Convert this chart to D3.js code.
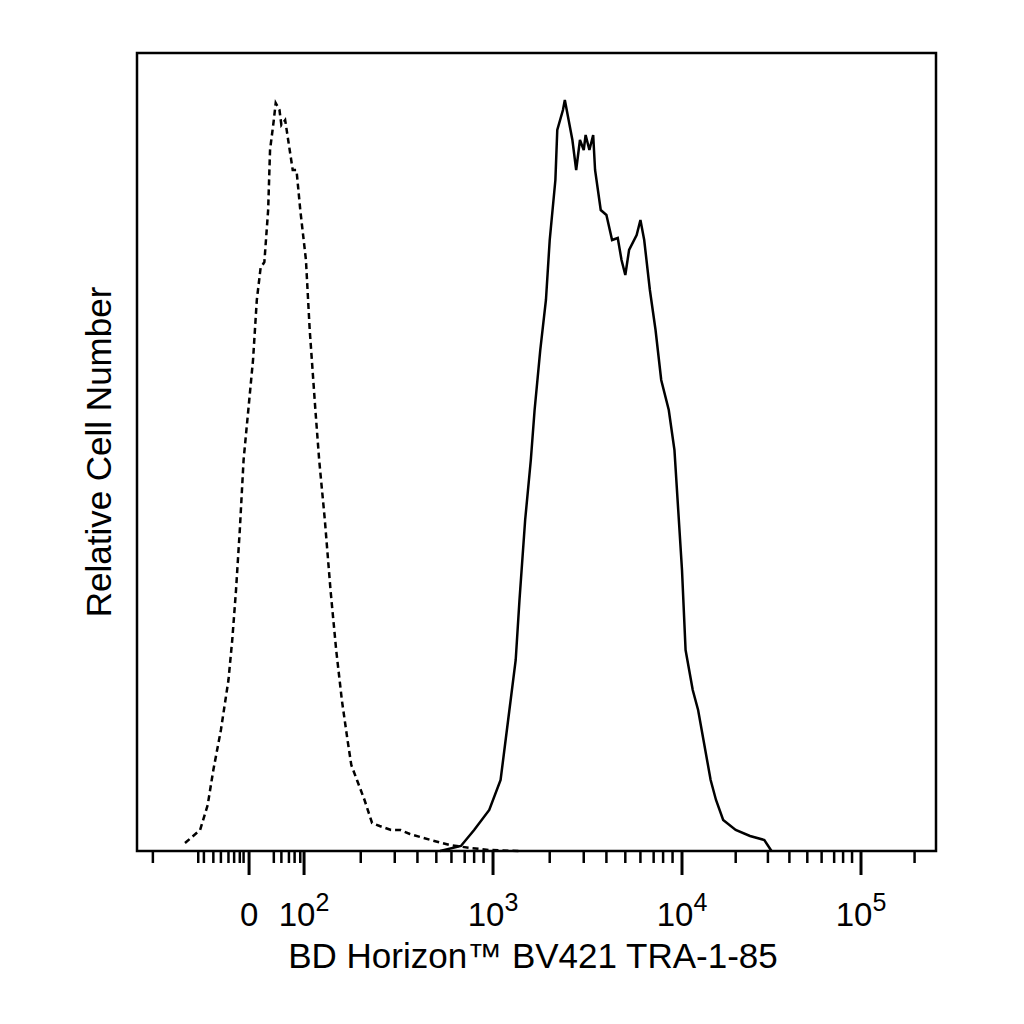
<!DOCTYPE html><html><head><meta charset="utf-8">
<script src="https://cdn.jsdelivr.net/npm/d3@7"></script>
<style>body{margin:0;background:#fff}</style></head><body><svg id="c" width="1024" height="1024"></svg>
<script>
// x values are in decade display units (2 = 10^2); "0" sits at 1.709
const isoX=[1.37,1.45,1.49,1.52,1.56,1.60,1.62,1.64,1.66,1.68,1.70,1.73,1.75,1.77,1.79,1.81,1.82,1.84,1.85,1.87,1.88,1.90,1.92,1.94,1.96,1.98,2.01,2.03,2.06,2.08,2.11,2.14,2.17,2.20,2.23,2.25,2.28,2.30,2.32,2.36,2.40,2.46,2.51,2.56,2.67,2.77,2.88,2.98,3.14];
const isoY=[8,21,46,81,121,171,211,261,321,391,431,491,551,583,589,641,701,731,748,741,726,731,706,681,681,641,591,521,441,391,331,261,201,151,111,86,71,61,51,28,25,21,21,17,11,6,3,1,0];
const stX=[2.72,2.83,2.90,2.98,3.04,3.08,3.12,3.14,3.17,3.20,3.22,3.25,3.28,3.30,3.33,3.34,3.37,3.38,3.40,3.42,3.44,3.46,3.48,3.49,3.51,3.53,3.54,3.57,3.60,3.63,3.66,3.68,3.70,3.72,3.76,3.78,3.80,3.83,3.86,3.89,3.93,3.96,3.98,4.00,4.02,4.06,4.09,4.12,4.16,4.19,4.23,4.30,4.38,4.46,4.50];
const stY=[0,5,21,41,71,131,191,251,331,391,441,501,551,611,671,721,741,751,731,711,681,711,701,716,701,716,681,641,636,611,613,591,576,601,616,631,611,561,521,471,441,401,341,281,201,161,141,111,71,51,31,21,15,11,0];
const majorTicks=[1.709,2,3,4,5];
const majorLabels=["0","10^2","10^3","10^4","10^5"];
const minorTicks=[1.20,1.44,1.47,1.52,1.56,1.60,1.63,1.66,1.68,1.84,1.88,1.92,1.95,1.98,
 2.30,2.48,2.60,2.70,2.78,2.85,2.90,2.95, 3.30,3.48,3.60,3.70,3.78,3.85,3.90,3.95, 4.30,4.48,4.60,4.70,4.78,4.85,4.90,4.95, 5.30];
const svg=d3.select("#c");
const L=137,R=936,T=53,B=851;
const F="Liberation Sans, Arial";
const x=d3.scaleLinear().domain([1.116,4,5,5.42]).range([L,682,861,R]);
const y=d3.scaleLinear().domain([0,798]).range([B,T]);
const line=d3.line().x(d=>x(d[0])).y(d=>y(d[1]));
svg.append("path").datum(isoX.map((v,i)=>[v,isoY[i]])).attr("d",line).attr("fill","none").attr("stroke","#000").attr("stroke-width",2.5).attr("stroke-dasharray","6,4");
svg.append("path").datum(stX.map((v,i)=>[v,stY[i]])).attr("d",line).attr("fill","none").attr("stroke","#000").attr("stroke-width",2.5);
svg.append("rect").attr("x",L).attr("y",T).attr("width",R-L).attr("height",B-T).attr("fill","none").attr("stroke","#000").attr("stroke-width",2.5);
const g=svg.append("g");
g.selectAll(".mn").data(minorTicks).join("line").attr("x1",d=>x(d)).attr("x2",d=>x(d)).attr("y1",B).attr("y2",B+12).attr("stroke","#000").attr("stroke-width",2.5);
g.selectAll(".mj").data(majorTicks).join("line").attr("x1",d=>x(d)).attr("x2",d=>x(d)).attr("y1",B).attr("y2",B+24).attr("stroke","#000").attr("stroke-width",3);
majorLabels.forEach((s,i)=>{
  const t=svg.append("text").attr("x",x(majorTicks[i])).attr("y",926).attr("text-anchor","middle")
   .attr("font-family",F).attr("font-size",33);
  if(s.includes("^")){const [b,e]=s.split("^");t.append("tspan").text(b);t.append("tspan").attr("dy",-15).attr("font-size",25).text(e);}
  else t.text(s);
});
svg.append("text").attr("x",533).attr("y",968).attr("text-anchor","middle").attr("font-family",F).attr("font-size",35).text("BD Horizon™ BV421 TRA-1-85");
svg.append("text").attr("transform","translate(111,452) rotate(-90)").attr("text-anchor","middle").attr("font-family",F).attr("font-size",35).text("Relative Cell Number");
</script></body></html>
